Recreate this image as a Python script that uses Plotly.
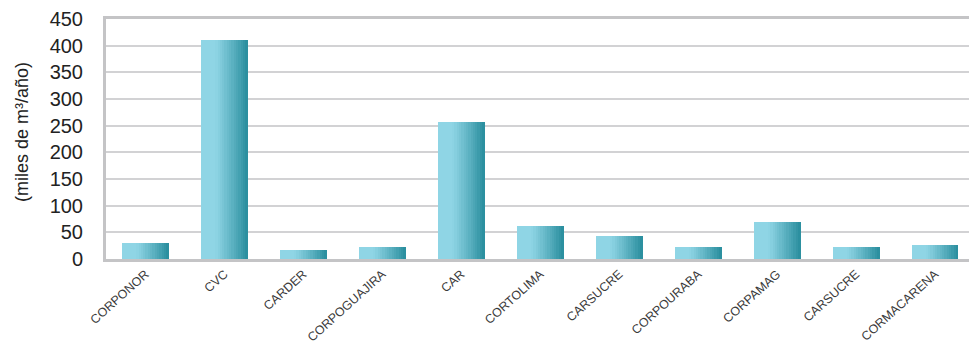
import plotly.graph_objects as go

categories = ["CORPONOR", "CVC", "CARDER", "CORPOGUAJIRA", "CAR", "CORTOLIMA",
              "CARSUCRE", "CORPOURABA", "CORPAMAG", "CARSUCRE", "CORMACARENA"]
values = [30, 411, 17, 22, 257, 62, 43, 22, 69, 22, 26]
y_ticks = [0, 50, 100, 150, 200, 250, 300, 350, 400, 450]

xs = list(range(len(categories)))

light = (143, 213, 229)
dark = (40, 141, 157)

def color_at(t):
    if t < 0.3:
        f = 0.0
    else:
        f = (t - 0.3) / 0.7
    f = f ** 1.1
    r = [round(light[k] + (dark[k] - light[k]) * f) for k in range(3)]
    return f"rgb({r[0]},{r[1]},{r[2]})"

N = 20
W = 0.585
fig = go.Figure()
for i in range(N):
    t = (i + 0.5) / N
    fig.add_trace(go.Bar(
        x=xs, y=values,
        width=W / N * 1.15,
        offset=-W / 2 + i * W / N,
        marker=dict(color=color_at(t), line=dict(width=0)),
        showlegend=False, hoverinfo="skip",
    ))

fig.update_layout(
    width=969, height=349,
    margin=dict(l=106, r=0, t=19, b=90),
    paper_bgcolor="white", plot_bgcolor="white",
    barmode="overlay", bargap=0,
    showlegend=False,
)
fig.update_xaxes(
    range=[-0.5, 10.43],
    tickmode="array", tickvals=xs, ticktext=categories,
    tickangle=-42, automargin=False,
    tickfont=dict(family="Liberation Sans, Arial, sans-serif", size=12.5, color="#3a3a3a"),
    showline=True, linecolor="#c4c4c6", linewidth=3, mirror=True,
    showgrid=False, ticks="", zeroline=False,
)
fig.update_yaxes(
    range=[0, 450], automargin=False,
    tickmode="array", tickvals=y_ticks,
    tickfont=dict(family="Liberation Sans, Arial, sans-serif", size=20, color="#222222"),
    ticks="outside", ticklen=16, tickcolor="rgba(0,0,0,0)",
    showline=True, linecolor="#c4c4c6", linewidth=3,
    showgrid=True, gridcolor="#d2d2d4", gridwidth=1.5,
    zeroline=False,
)
fig.add_annotation(
    text="(miles de m³/año)", textangle=-90,
    xref="paper", yref="paper",
    x=(22 - 106) / 863, y=(259 - 132) / 240,
    xanchor="center", yanchor="middle", showarrow=False,
    font=dict(family="Liberation Sans, Arial, sans-serif", size=18, color="#222222"),
)
fig.write_html("out.html")
